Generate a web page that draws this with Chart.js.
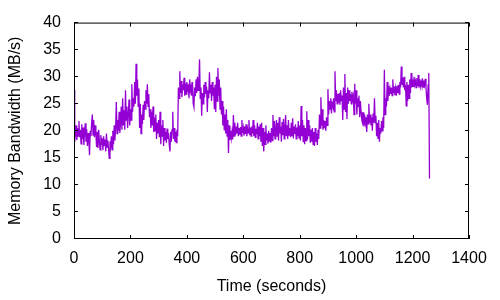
<!DOCTYPE html>
<html>
<head>
<meta charset="utf-8">
<script src="https://cdn.jsdelivr.net/npm/chart.js@4/dist/chart.umd.min.js"></script>
<style>
html,body{margin:0;padding:0;background:#fff;}
#wrap{width:500px;height:300px;position:relative;}
</style>
</head>
<body>
<div id="wrap"><canvas id="c" width="500" height="300"></canvas></div>
<script>
// sample interval 2.5 s, starting at t = 0
const sampleStep = 2.5;
const bandwidth = [
27.6,18.0,19.5,21.0,18.3,20.5,19.0,21.8,18.8,20.2,17.6,21.2,18.5,20.6,17.4,19.8,21.4,18.0,20.3,17.2,
19.6,18.2,15.5,20.0,19.0,21.5,23.0,19.2,22.0,18.8,21.0,19.5,17.0,19.8,16.8,20.2,18.0,16.5,19.2,17.4,
18.6,16.4,19.0,17.2,18.4,16.2,19.5,17.0,18.2,16.6,14.9,18.0,17.2,19.0,16.5,20.0,17.5,21.0,18.2,20.5,
25.3,19.5,22.0,20.0,23.5,19.6,21.5,24.5,20.2,26.0,21.0,23.8,20.2,27.5,22.0,24.5,20.5,23.0,25.8,21.0,
24.0,22.0,28.6,23.5,26.0,24.5,29.0,25.0,32.4,26.5,29.5,24.5,27.8,20.5,25.0,19.5,23.0,21.2,24.8,22.0,
25.5,24.0,27.5,25.0,28.6,24.5,26.8,22.5,24.0,20.5,23.5,21.0,24.5,19.8,22.5,20.0,23.0,18.5,21.5,19.5,
22.0,18.8,23.5,17.5,21.0,19.0,22.0,17.2,20.5,18.2,19.8,17.8,20.4,18.5,19.6,17.5,16.2,19.8,18.0,20.2,
23.5,18.5,20.5,18.0,19.8,17.8,20.2,19.0,28.0,26.0,31.0,27.0,29.2,26.2,28.5,27.5,29.8,26.5,28.8,26.8,
29.0,27.2,28.6,26.0,29.5,27.4,28.2,26.5,29.0,25.0,24.4,28.0,26.4,29.5,27.0,30.0,27.5,28.8,33.2,26.0,
28.0,22.8,27.0,25.0,28.5,26.2,29.0,26.8,28.2,23.5,27.5,26.0,30.8,27.0,28.5,25.5,29.0,26.5,28.0,24.0,
28.5,23.5,30.0,25.5,31.6,26.5,29.5,24.0,28.0,23.0,25.5,21.0,24.5,20.2,23.0,19.5,24.0,19.0,22.0,15.9,
21.0,18.3,20.0,18.6,19.8,18.4,22.9,19.0,21.5,19.2,20.8,19.5,21.5,19.0,20.5,19.3,20.7,19.0,22.0,19.6,
20.5,19.1,20.8,19.4,21.2,19.0,20.4,19.6,22.0,19.2,20.6,19.0,20.8,19.5,22.0,19.0,21.0,18.8,20.4,19.4,
21.5,18.5,20.8,19.0,21.2,18.0,21.5,17.2,20.5,16.2,19.8,17.5,21.0,18.2,19.5,17.6,20.0,18.0,19.6,17.8,
20.5,18.2,22.9,19.0,21.8,18.5,20.5,22.0,19.0,21.5,18.2,22.5,19.5,20.8,18.0,21.6,19.2,22.2,18.5,20.5,
22.9,19.0,21.0,18.5,22.0,19.2,20.5,18.8,21.5,19.0,22.3,18.6,20.8,19.4,21.2,18.5,20.6,19.0,21.8,18.7,
21.0,18.2,24.6,19.0,22.0,18.0,21.0,17.5,20.5,18.2,23.6,18.4,22.0,19.0,21.0,17.8,20.2,18.0,20.5,17.5,
19.8,17.2,20.5,18.0,19.5,17.4,20.2,18.5,23.0,20.5,26.2,21.0,24.0,20.2,22.0,20.5,21.8,20.0,22.5,21.0,
27.7,23.0,25.5,24.0,26.0,23.2,25.0,24.5,26.0,23.5,31.0,25.5,27.5,25.0,26.8,25.2,27.0,24.8,27.5,25.5,
26.5,22.0,28.0,24.0,30.5,23.5,27.0,22.2,28.0,25.0,27.5,25.5,26.8,25.0,27.2,25.8,26.5,23.0,28.7,25.0,
27.5,23.0,26.0,24.5,26.5,22.5,25.5,23.5,22.0,21.5,23.4,20.8,23.0,21.5,22.5,19.8,23.0,21.3,25.0,21.5,
23.0,21.0,22.5,20.0,23.2,21.5,26.0,21.5,22.8,19.0,21.5,18.6,22.0,18.0,20.5,19.5,21.8,20.0,22.5,20.5,
31.3,23.0,26.0,24.5,29.0,25.5,28.3,26.5,27.8,26.8,28.0,26.5,29.5,27.0,28.2,26.6,27.8,26.5,28.3,27.0,
28.5,26.8,29.0,28.0,31.9,28.5,29.8,28.0,30.0,27.5,28.5,24.6,29.0,25.5,28.5,26.0,29.5,27.0,30.7,28.0,
29.5,28.2,30.0,28.5,29.2,28.0,29.7,28.3,30.3,28.0,29.5,28.2,29.0,28.4,29.7,28.1,29.3,28.5,29.6,28.0,
26.0,24.8,28.5,30.7,11.2
];
const times = bandwidth.map((v, i) => i * sampleStep);

const xTicks = [0,200,400,600,800,1000,1200,1400];
const yTicks = [0,5,10,15,20,25,30,35,40];
const xTitle = 'Time (seconds)';
const yTitle = 'Memory Bandwidth (MB/s)';

const FONT = "'Liberation Sans', Arial, sans-serif";

const boxPlugin = {
  id: 'box',
  afterDraw(chart) {
    const {ctx, chartArea: a, scales} = chart;
    ctx.save();
    ctx.strokeStyle = '#000';
    ctx.lineWidth = 1;
    ctx.strokeRect(a.left + 0.5, a.top + 0.5, a.right - a.left - 1, a.bottom - a.top - 1);
    const L = 4;
    ctx.beginPath();
    xTicks.forEach(v => {
      const x = Math.round(scales.x.getPixelForValue(v)) + 0.5;
      ctx.moveTo(x, a.bottom); ctx.lineTo(x, a.bottom - L);
      ctx.moveTo(x, a.top); ctx.lineTo(x, a.top + L);
    });
    yTicks.forEach(v => {
      const y = Math.round(scales.y.getPixelForValue(v)) - 0.5;
      ctx.moveTo(a.left, y); ctx.lineTo(a.left + L, y);
      ctx.moveTo(a.right, y); ctx.lineTo(a.right - L, y);
    });
    ctx.stroke();
    ctx.restore();
  }
};

new Chart(document.getElementById('c'), {
  type: 'line',
  data: {
    datasets: [{
      data: times.map((t, i) => ({x: t, y: bandwidth[i]})),
      borderColor: '#9400D3',
      borderWidth: 1.3,
      pointRadius: 0,
      tension: 0,
      fill: false
    }]
  },
  options: {
    responsive: false,
    animation: false,
    layout: {padding: {left: 0, right: 31, top: 19, bottom: 0}},
    plugins: {legend: {display: false}, tooltip: {enabled: false}},
    scales: {
      x: {
        type: 'linear', min: 0, max: 1400,
        afterBuildTicks: s => { s.ticks = xTicks.map(v => ({value: v})); },
        afterFit: s => { s.height = 61; },
        grid: {display: false, drawTicks: false},
        border: {display: false},
        ticks: {color: '#000', padding: 10, maxRotation: 0, font: {family: FONT, size: 16}, callback: v => String(v)},
        title: {display: true, text: xTitle, color: '#000', font: {family: FONT, size: 16}, padding: {top: 0, bottom: 4}}
      },
      y: {
        type: 'linear', min: 0, max: 40,
        afterBuildTicks: s => { s.ticks = yTicks.map(v => ({value: v})); },
        afterFit: s => { s.width = 74; },
        grid: {display: false, drawTicks: false},
        border: {display: false},
        ticks: {color: '#000', padding: 13, font: {family: FONT, size: 16}, callback: v => String(v)},
        title: {display: true, text: yTitle, color: '#000', font: {family: FONT, size: 16}, padding: {top: 6, bottom: 0}}
      }
    }
  },
  plugins: [boxPlugin]
});
</script>
</body>
</html>
